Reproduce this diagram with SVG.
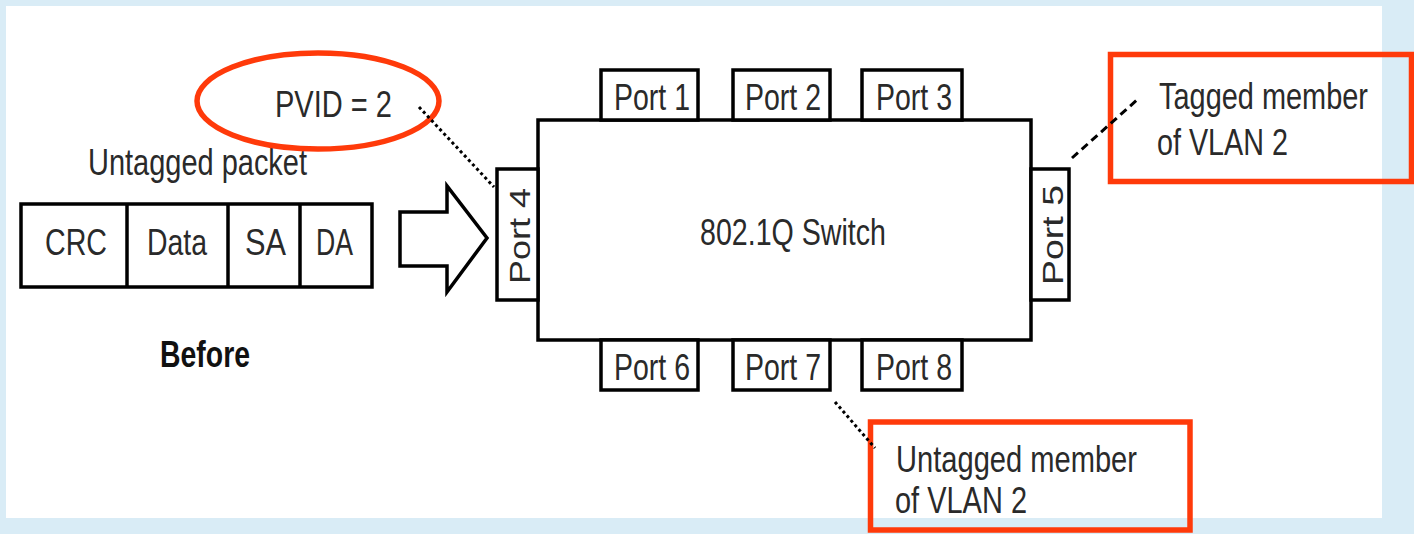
<svg xmlns="http://www.w3.org/2000/svg" width="1414" height="534" viewBox="0 0 1414 534">
<defs>
<style>
.t{font-family:"Liberation Sans",Arial,sans-serif;font-size:37px;fill:#2a2a2a}
.b{fill:#fff;stroke:#000;stroke-width:3.5}
.red{fill:none;stroke:#ff3a0a;stroke-width:5.5}
.dot{stroke:#000;stroke-width:3;stroke-dasharray:3 3;fill:none}
.dash{stroke:#000;stroke-width:3;stroke-dasharray:8 5;fill:none}
</style>
</defs>
<rect x="0" y="0" width="1414" height="534" fill="#d9ecf6"/>
<rect x="6" y="6" width="1376" height="512" fill="#fff"/>

<g id="packet">
<rect class="b" x="21" y="204" width="351" height="83"/>
<line x1="127" y1="204" x2="127" y2="287" stroke="#000" stroke-width="3.5"/>
<line x1="228" y1="204" x2="228" y2="287" stroke="#000" stroke-width="3.5"/>
<line x1="300" y1="204" x2="300" y2="287" stroke="#000" stroke-width="3.5"/>
<text class="t" x="45" y="255" textLength="62" lengthAdjust="spacingAndGlyphs">CRC</text>
<text class="t" x="147" y="255" textLength="60" lengthAdjust="spacingAndGlyphs">Data</text>
<text class="t" x="245" y="255" textLength="41" lengthAdjust="spacingAndGlyphs">SA</text>
<text class="t" x="316" y="255" textLength="37" lengthAdjust="spacingAndGlyphs">DA</text>
</g>
<g id="label-untagged-packet">
<text class="t" x="88" y="175" textLength="219" lengthAdjust="spacingAndGlyphs">Untagged packet</text>
</g>
<g id="label-before">
<text class="t" x="160" y="367" textLength="90" lengthAdjust="spacingAndGlyphs" font-weight="bold" style="font-size:37px;fill:#111">Before</text>
</g>
<g id="arrow">
<path class="b" stroke-width="3" d="M400,212 L447,212 L447,186 L487,238 L447,292 L447,266 L400,266 Z"/>
</g>
<g id="pvid">
<ellipse cx="318" cy="101" rx="121" ry="48" class="red"/>
<text class="t" x="275" y="117" textLength="117" lengthAdjust="spacingAndGlyphs">PVID = 2</text>
</g>

<g id="switch">
<rect class="b" x="538" y="120" width="493" height="220"/>
<text class="t" x="700" y="245" textLength="186" lengthAdjust="spacingAndGlyphs">802.1Q Switch</text>
</g>
<g id="port1"><rect class="b" x="601" y="70" width="97" height="50"/><text class="t" x="614" y="110" textLength="76" lengthAdjust="spacingAndGlyphs">Port 1</text></g>
<g id="port2"><rect class="b" x="733" y="70" width="97" height="50"/><text class="t" x="745" y="110" textLength="76" lengthAdjust="spacingAndGlyphs">Port 2</text></g>
<g id="port3"><rect class="b" x="862" y="70" width="100" height="50"/><text class="t" x="876" y="110" textLength="76" lengthAdjust="spacingAndGlyphs">Port 3</text></g>
<g id="port6"><rect class="b" x="601" y="340" width="97" height="50"/><text class="t" x="614" y="380" textLength="76" lengthAdjust="spacingAndGlyphs">Port 6</text></g>
<g id="port7"><rect class="b" x="733" y="340" width="97" height="50"/><text class="t" x="745" y="380" textLength="76" lengthAdjust="spacingAndGlyphs">Port 7</text></g>
<g id="port8"><rect class="b" x="862" y="340" width="100" height="50"/><text class="t" x="876" y="380" textLength="76" lengthAdjust="spacingAndGlyphs">Port 8</text></g>
<g id="port4"><rect class="b" x="497" y="169" width="41" height="131"/><text class="t" style="font-size:30px" text-anchor="middle" transform="translate(530,236) rotate(-90)" textLength="96" lengthAdjust="spacingAndGlyphs">Port 4</text></g>
<g id="port5"><rect class="b" x="1031" y="169" width="38" height="131"/><text class="t" style="font-size:30px" text-anchor="middle" transform="translate(1063,235) rotate(-90)" textLength="100" lengthAdjust="spacingAndGlyphs">Port 5</text></g>

<g id="tagged-note">
<rect class="red" x="1110.5" y="54.5" width="301" height="127"/>
<text class="t" x="1159" y="109" textLength="209" lengthAdjust="spacingAndGlyphs">Tagged member</text>
<text class="t" x="1157" y="155" textLength="131" lengthAdjust="spacingAndGlyphs">of VLAN 2</text>
</g>
<g id="untagged-note">
<rect class="red" x="870.5" y="422" width="319.5" height="108"/>
<text class="t" x="896" y="472" textLength="241" lengthAdjust="spacingAndGlyphs">Untagged member</text>
<text class="t" x="895" y="513" textLength="132" lengthAdjust="spacingAndGlyphs">of VLAN 2</text>
</g>

<g id="connectors">
<line class="dot" x1="419" y1="107" x2="494" y2="187"/>
<line class="dash" x1="1072" y1="158" x2="1138" y2="99"/>
<line class="dot" x1="835" y1="402" x2="875" y2="448"/>
</g>
</svg>
